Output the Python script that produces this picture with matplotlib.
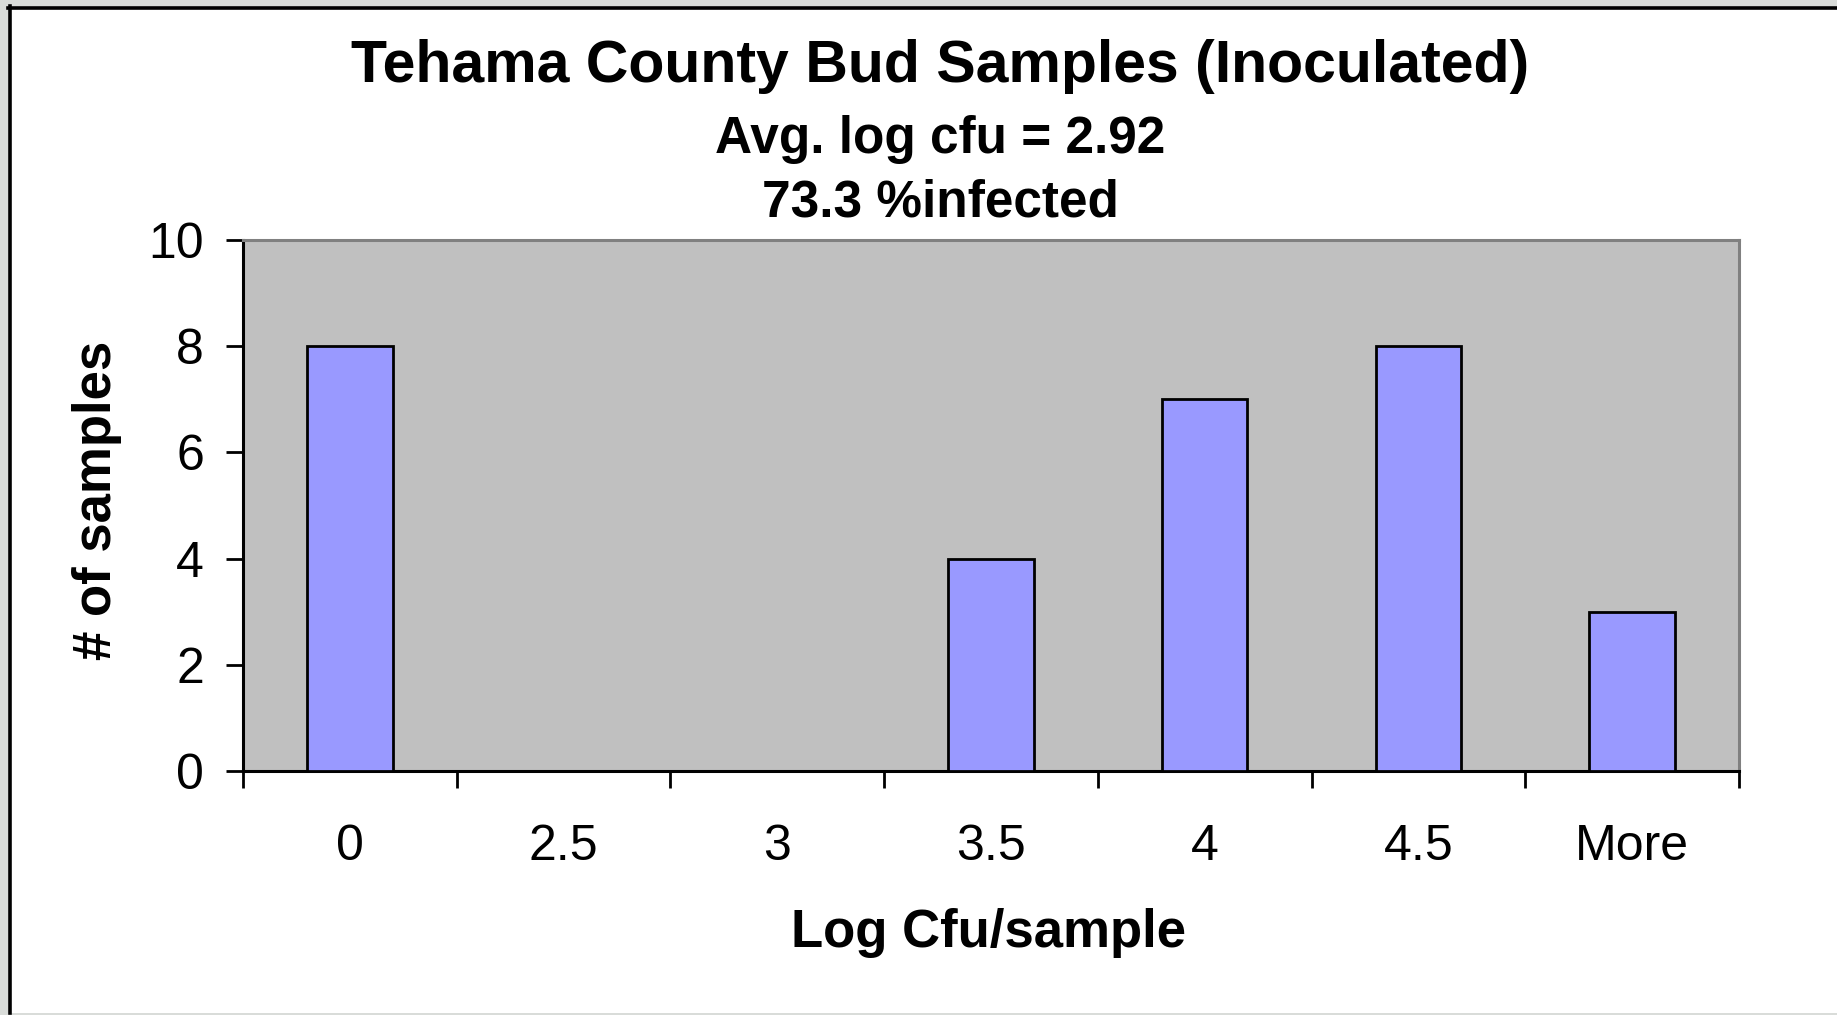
import matplotlib
matplotlib.use("Agg")
import matplotlib.pyplot as plt
from matplotlib.patches import Rectangle
from matplotlib.lines import Line2D
import numpy as np

categories = ["0", "2.5", "3", "3.5", "4", "4.5", "More"]
counts = [8, 0, 0, 4, 7, 8, 3]
title = "Tehama County Bud Samples (Inoculated)"
subtitle1 = "Avg. log cfu = 2.92"
subtitle2 = "73.3 %infected"
xlabel = "Log Cfu/sample"
ylabel = "# of samples"

W, H = 1837, 1015
fig = plt.figure(figsize=(W / 100, H / 100), dpi=100, facecolor="#d9dcd9")
font = "Liberation Sans"

# white panel with dark border on left/top
fig.patches.append(Rectangle((11 / W, 2 / H), 1 - 11 / W, (H - 11) / H,
                             transform=fig.transFigure, facecolor="white",
                             edgecolor="none", zorder=-10))
fig.lines.append(Line2D([9.5 / W, 9.5 / W], [2 / H, 1 - 6 / H], transform=fig.transFigure,
                        color="black", lw=2.6, zorder=-5))
fig.lines.append(Line2D([8 / W, 1], [1 - 7.5 / H, 1 - 7.5 / H], transform=fig.transFigure,
                        color="black", lw=2.6, zorder=-5))

ax = fig.add_axes([243 / W, 1 - 771 / H, (1739 - 243) / W, (771 - 240) / H])
ax.set_zorder(1)
ax.set_facecolor("#C0C0C0")
x = np.arange(len(categories))
ax.bar(x, counts, width=0.4, color="#9999FF", edgecolor="black", linewidth=2, zorder=3)
ax.set_xlim(-0.5, len(categories) - 0.5)
ax.set_ylim(0, 10)

ax.set_xticks(np.arange(len(categories) + 1) - 0.5)
ax.set_xticklabels([])
ax.set_xticks(x, minor=True)
ax.set_xticklabels(categories, minor=True, fontsize=36, family=font)
ax.tick_params(axis="x", which="minor", length=0, pad=38)
ax.tick_params(axis="x", which="major", length=12, width=2, color="black", direction="out")
ax.set_yticks([0, 2, 4, 6, 8, 10])
ax.tick_params(axis="y", length=12, width=2, direction="out", labelsize=36, pad=16)
for lab in ax.get_yticklabels():
    lab.set_family(font)

for s in ["left", "bottom"]:
    ax.spines[s].set_color("black")
    ax.spines[s].set_linewidth(2.2)
for s in ["top", "right"]:
    ax.spines[s].set_color("#808080")
    ax.spines[s].set_linewidth(2.2)

ax.set_xlabel(xlabel, fontsize=38, fontweight="bold", family=font, va="center")
ax.set_ylabel(ylabel, fontsize=38, fontweight="bold", family=font, va="center")
ax.xaxis.set_label_coords(0.4985, -0.305)
ax.yaxis.set_label_coords(-0.0976, 0.51)

cx = 940 / W
fig.text(cx, 1 - 66 / H, title, ha="center", va="center", fontsize=42.5,
         fontweight="bold", family=font)
fig.text(cx, 1 - 139 / H, subtitle1, ha="center", va="center", fontsize=37,
         fontweight="bold", family=font)
fig.text(cx, 1 - 203 / H, subtitle2, ha="center", va="center", fontsize=37,
         fontweight="bold", family=font)

fig.savefig("out.png", dpi=100, facecolor=fig.get_facecolor())
